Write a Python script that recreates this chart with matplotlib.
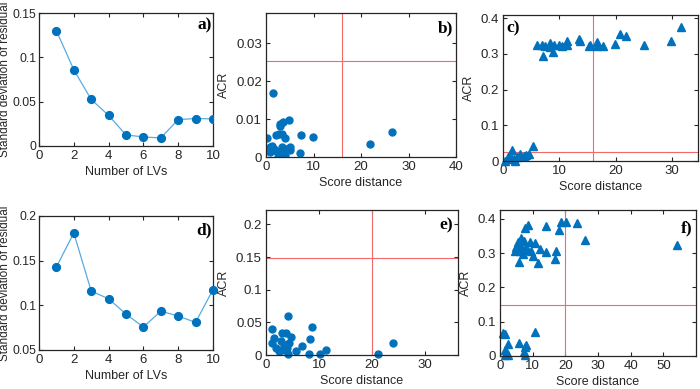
import matplotlib
matplotlib.use("Agg")
import matplotlib.pyplot as plt
from matplotlib.ticker import FuncFormatter

plt.rcParams['font.family'] = ['Liberation Sans', 'DejaVu Sans']

# ---------------- data ----------------
lvs = [1, 2, 3, 4, 5, 6, 7, 8, 9, 10]
sd_a = [0.130, 0.086, 0.0525, 0.0345, 0.0125, 0.0102, 0.0091, 0.0298, 0.031, 0.0306]
sd_d = [0.143, 0.181, 0.116, 0.1073, 0.0902, 0.0757, 0.0935, 0.088, 0.0809, 0.1177]

b_x = [1.5, 0.2, 4.8, 3.5, 2.9, 3.0, 2.0, 2.8, 3.4, 3.9, 7.4, 9.8, 21.9, 26.6, 7.2,
       0.9, 1.1, 0.8, 1.6, 2.5, 3.4, 3.6, 3.9, 5.0, 5.0, 1.2, 2.2, 3.0, 4.2, 0.6]
b_y = [0.0169, 0.0049, 0.0097, 0.0093, 0.0081, 0.0088, 0.0057, 0.0062, 0.0062, 0.0049,
       0.0057, 0.0052, 0.0035, 0.0066, 0.0011, 0.0026, 0.0019, 0.0013, 0.0022, 0.0000,
       0.0026, 0.0009, 0.0004, 0.0026, 0.0018, 0.0030, 0.0015, 0.0013, 0.0020, 0.0020]

c_x = [6.0, 6.9, 7.5, 7.1, 8.4, 9.0, 8.9, 9.9, 10.5, 11.3, 11.3, 13.4, 13.7, 15.5, 16.7,
       16.7, 17.8, 19.9, 20.8, 21.9, 25.0, 29.8, 31.6, 8.4, 15.2,
       5.3, 1.6, 1.3, 1.9, 1.0, 2.5, 3.1, 4.0, 4.7, 0.4, 2.2, 3.7, 0.8]
c_y = [0.325, 0.325, 0.322, 0.294, 0.330, 0.325, 0.304, 0.325, 0.322, 0.335, 0.325, 0.341,
       0.335, 0.325, 0.332, 0.322, 0.322, 0.327, 0.356, 0.350, 0.325, 0.337, 0.375, 0.318,
       0.322,
       0.043, 0.031, 0.017, 0.007, 0.005, 0.012, 0.020, 0.017, 0.020, 0.001, 0.001, 0.014,
       0.010]

e_x = [4.2, 1.1, 8.6, 3.1, 3.7, 4.7, 1.5, 8.3, 1.2, 2.8, 4.3, 6.7, 1.8, 3.1, 4.0, 5.6,
       4.2, 8.1, 10.1, 11.4, 2.5, 3.4, 21.1, 23.9]
e_y = [0.059, 0.040, 0.043, 0.034, 0.034, 0.0275, 0.026, 0.024, 0.018, 0.021, 0.018,
       0.014, 0.011, 0.008, 0.011, 0.0056, 0.002, 0.002, 0.002, 0.008, 0.0056, 0.016,
       0.001, 0.019]

f_x = [8.6, 7.6, 14.2, 18.8, 20.3, 23.7, 18.1, 25.9, 6.5, 7.3, 5.5, 9.1, 10.6, 5.0, 6.5,
       8.1, 12.1, 4.5, 6.0, 9.6, 14.2, 17.2, 8.4, 10.1, 5.7, 11.6, 16.9, 7.0, 54.3,
       0.9, 1.6, 10.6, 2.4, 5.7, 8.1, 7.6, 1.6, 2.2, 7.3, 1.4, 2.4, 7.6]
f_y = [0.381, 0.373, 0.380, 0.390, 0.390, 0.387, 0.368, 0.339, 0.344, 0.336, 0.334, 0.334,
       0.331, 0.319, 0.319, 0.319, 0.312, 0.305, 0.305, 0.305, 0.303, 0.307, 0.309, 0.293,
       0.275, 0.272, 0.283, 0.297, 0.324,
       0.068, 0.064, 0.071, 0.035, 0.039, 0.032, 0.027, 0.018, 0.008, 0.013, 0.003, 0.003,
       0.003]

# critical limits (red lines)
b_lim = (16, 0.0253)
c_lim = (16, 0.026)
e_lim = (20, 0.148)
f_lim = (20, 0.150)

# ---------------- style ----------------
BLUE = '#0072BD'
LINE = '#5AAAE0'
RED = '#F26B6B'
DARK = '#262626'
W, H = 700, 389

fig = plt.figure(figsize=(7.0, 3.89), dpi=100)


def make_ax(l, r, t, b):
    ax = fig.add_axes([l / W, 1 - b / H, (r - l) / W, (b - t) / H])
    ax.tick_params(direction='in', length=3, width=0.8, top=True, right=True,
                   labelsize=9.5, colors=DARK, pad=3)
    for s in ax.spines.values():
        s.set_color(DARK)
        s.set_linewidth(0.9)
    fmt = FuncFormatter(lambda v, p: ('%g' % round(v, 6)))
    ax.xaxis.set_major_formatter(fmt)
    ax.yaxis.set_major_formatter(fmt)
    return ax


def panel_label(ax, txt, x, y, left=False):
    ax.text(x, y, txt, transform=ax.transAxes, ha='left' if left else 'right', va='top',
            fontsize=12.5, fontweight='bold', family='Liberation Serif', zorder=5)


lab_kw = dict(fontsize=9, color=DARK)
sd_kw = dict(fontsize=8.5, color=DARK)

# a
ax = make_ax(39, 213, 13, 146)
ax.tick_params(axis='y', labelsize=8.8, pad=2)
ax.plot(lvs, sd_a, '-', color=LINE, lw=0.9, zorder=2)
ax.plot(lvs, sd_a, 'o', color=BLUE, ms=5.6, zorder=3)
ax.set_xlim(0, 10); ax.set_ylim(0, 0.15)
ax.set_xticks([0, 2, 4, 6, 8, 10]); ax.set_yticks([0, 0.05, 0.1, 0.15])
ax.set_xlabel('Number of LVs', labelpad=3, **lab_kw)
ax.set_ylabel('Standard deviation of residual', **sd_kw)
ax.yaxis.set_label_coords(-0.162, 0.5)
panel_label(ax, 'a)', 0.995, 0.97)

# b
ax = make_ax(266, 456, 13, 157)
ax.axvline(b_lim[0], color=RED, lw=0.8)
ax.axhline(b_lim[1], color=RED, lw=0.8)
ax.plot(b_x, b_y, 'o', color=BLUE, ms=5.0, ls='none')
ax.set_xlim(0, 40); ax.set_ylim(0, 0.038)
ax.set_xticks([0, 10, 20, 30, 40]); ax.set_yticks([0, 0.01, 0.02, 0.03])
ax.set_xlabel('Score distance', labelpad=3, **lab_kw)
ax.set_ylabel('ACR', labelpad=4, **lab_kw)
panel_label(ax, 'b)', 0.985, 0.95)

# c
ax = make_ax(503, 698, 15, 161)
ax.axvline(c_lim[0], color=RED, lw=0.8)
ax.axhline(c_lim[1], color=RED, lw=0.8)
ax.plot(c_x, c_y, '^', color=BLUE, ms=5.5, ls='none', clip_on=False)
ax.set_xlim(0, 34.6); ax.set_ylim(0, 0.409)
ax.set_xticks([0, 10, 20, 30]); ax.set_yticks([0, 0.1, 0.2, 0.3, 0.4])
ax.set_xlabel('Score distance', labelpad=3, **lab_kw)
ax.set_ylabel('ACR', labelpad=4, **lab_kw)
panel_label(ax, 'c)', 0.015, 0.96, left=True)

# d
ax = make_ax(39, 213, 216, 350)
ax.tick_params(axis='y', labelsize=8.8, pad=2)
ax.plot(lvs, sd_d, '-', color=LINE, lw=0.9, zorder=2)
ax.plot(lvs, sd_d, 'o', color=BLUE, ms=5.6, zorder=3, clip_on=False)
ax.set_xlim(0, 10); ax.set_ylim(0.05, 0.2)
ax.set_xticks([0, 2, 4, 6, 8, 10]); ax.set_yticks([0.05, 0.1, 0.15, 0.2])
ax.set_xlabel('Number of LVs', labelpad=3, **lab_kw)
ax.set_ylabel('Standard deviation of residual', **sd_kw)
ax.yaxis.set_label_coords(-0.162, 0.5)
panel_label(ax, 'd)', 0.995, 0.95)

# e
ax = make_ax(266, 458, 210, 355)
ax.axvline(e_lim[0], color=RED, lw=0.8)
ax.axhline(e_lim[1], color=RED, lw=0.8)
ax.plot(e_x, e_y, 'o', color=BLUE, ms=5.0, ls='none', clip_on=False)
ax.set_xlim(0, 36.2); ax.set_ylim(0, 0.222)
ax.set_xticks([0, 10, 20, 30]); ax.set_yticks([0, 0.05, 0.1, 0.15, 0.2])
ax.set_xlabel('Score distance', labelpad=3, **lab_kw)
ax.set_ylabel('ACR', labelpad=4, **lab_kw)
panel_label(ax, 'e)', 0.975, 0.95)

# f
ax = make_ax(500, 696, 210, 356)
ax.axvline(f_lim[0], color=RED, lw=0.8)
ax.axhline(f_lim[1], color=RED, lw=0.8)
ax.plot(f_x, f_y, '^', color=BLUE, ms=5.5, ls='none', clip_on=False)
ax.set_xlim(0, 60); ax.set_ylim(0, 0.426)
ax.set_xticks([0, 10, 20, 30, 40, 50]); ax.set_yticks([0, 0.1, 0.2, 0.3, 0.4])
ax.set_xlabel('Score distance', labelpad=3, **lab_kw)
ax.set_ylabel('ACR', labelpad=4, **lab_kw)
panel_label(ax, 'f)', 0.98, 0.93)

fig.savefig('out.png', dpi=100)
